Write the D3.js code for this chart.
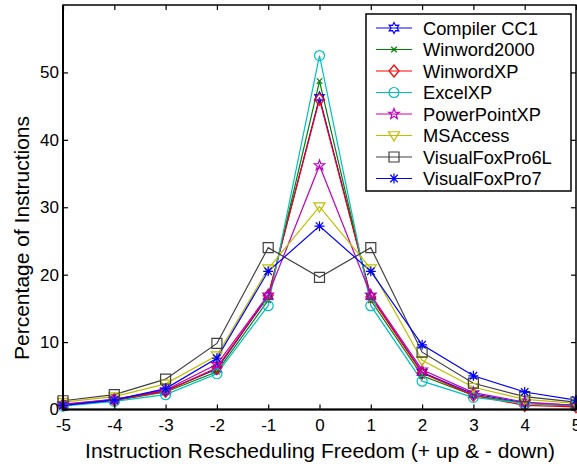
<!DOCTYPE html>
<html><head><meta charset="utf-8">
<script src="https://cdn.jsdelivr.net/npm/d3@7"></script>
<style>body{margin:0;background:#fff}svg{display:block}text{font-family:Arial,"Liberation Sans",sans-serif}</style>
</head><body><svg id="c" width="577" height="464"></svg>
<script>
const xVals = [-5,-4,-3,-2,-1,0,1,2,3,4,5];
const xTicks = [-5,-4,-3,-2,-1,0,1,2,3,4,5];
const yTicks = [0,10,20,30,40,50];
const names = ["Compiler CC1","Winword2000","WinwordXP","ExcelXP","PowerPointXP","MSAccess","VisualFoxPro6L","VisualFoxPro7"];
const colors = ["#0000ff","#008000","#ff0000","#00bfbf","#bf00bf","#bfbf00","#404040","#0000ff"];
const markers = ["hexagram","x","diamond","circle","pentagram","triangleDown","square","asterisk"];
const compilerCC1   = [0.7,1.5,2.8,6.0,16.8,46.3,16.8,5.5,2.3,1.0,0.6];
const winword2000   = [0.6,1.3,2.6,5.6,16.2,48.7,16.2,5.0,2.1,0.9,0.5];
const winwordXP     = [0.7,1.4,2.7,6.2,16.9,46.0,16.7,5.4,2.1,0.6,0.4];
const excelXP       = [0.5,1.2,2.2,5.3,15.4,52.5,15.4,4.2,1.8,0.9,0.6];
const powerPointXP  = [0.8,1.5,2.9,6.7,17.0,36.2,17.0,5.9,2.5,1.1,0.6];
const msAccess      = [1.1,1.9,3.8,8.0,20.9,30.1,20.9,7.3,3.3,1.5,0.9];
const visualFoxPro6L= [1.3,2.2,4.5,9.8,24.0,19.6,24.0,8.5,3.9,1.9,1.1];
const visualFoxPro7 = [0.6,1.4,3.1,7.6,20.5,27.2,20.5,9.6,5.0,2.6,1.4];
const series = [compilerCC1,winword2000,winwordXP,excelXP,powerPointXP,msAccess,visualFoxPro6L,visualFoxPro7];

const svg = d3.select("#c");
const L=63,R=576,T=5,B=409.5;
const x = d3.scaleLinear().domain([-5,5]).range([L,R]);
const y = d3.scaleLinear().domain([0,60]).range([B,T]);

function markerPath(type,s){
  const p=d3.path();
  if(type==="circle"){p.arc(0,0,s,0,2*Math.PI);}
  else if(type==="square"){p.rect(-s,-s,2*s,2*s);}
  else if(type==="diamond"){p.moveTo(0,-s*1.2);p.lineTo(s,0);p.lineTo(0,s*1.2);p.lineTo(-s,0);p.closePath();}
  else if(type==="triangleDown"){p.moveTo(-s*1.1,-s*0.75);p.lineTo(s*1.1,-s*0.75);p.lineTo(0,s*1.1);p.closePath();}
  else if(type==="x"){const k=s*0.55;p.moveTo(-k,-k);p.lineTo(k,k);p.moveTo(-k,k);p.lineTo(k,-k);}
  else if(type==="asterisk"){const k=s*0.75;p.moveTo(-s,0);p.lineTo(s,0);p.moveTo(0,-s);p.lineTo(0,s);p.moveTo(-k,-k);p.lineTo(k,k);p.moveTo(-k,k);p.lineTo(k,-k);}
  else if(type==="pentagram"||type==="hexagram"){
    const n=type==="pentagram"?5:6, ro=s*1.1, ri=type==="pentagram"?s*0.45:s*0.6;
    for(let i=0;i<2*n;i++){const a=-Math.PI/2+i*Math.PI/n, r=i%2?ri:ro;
      const px=r*Math.cos(a),py=r*Math.sin(a); if(i===0)p.moveTo(px,py);else p.lineTo(px,py);}
    p.closePath();
  }
  return p.toString();
}

const line = d3.line().x((d,i)=>x(xVals[i])).y(d=>y(d));
const g = svg.append("g");
series.forEach((s,k)=>{
  g.append("path").attr("d",line(s)).attr("fill","none").attr("stroke",colors[k]).attr("stroke-width",1.2);
});
series.forEach((s,k)=>{
  g.selectAll(null).data(s).enter().append("path")
    .attr("transform",(d,i)=>`translate(${x(xVals[i])},${y(d)})`)
    .attr("d",markerPath(markers[k],5)).attr("fill","none").attr("stroke",colors[k]).attr("stroke-width",1.2);
});

// frame
svg.append("rect").attr("x",L).attr("y",T).attr("width",R-L).attr("height",B-T).attr("fill","none").attr("stroke","#000").attr("stroke-width",1.5);
svg.append("line").attr("x1",L).attr("x2",R).attr("y1",B).attr("y2",B).attr("stroke","#000").attr("stroke-width",2);
svg.append("line").attr("x1",L).attr("x2",L).attr("y1",T).attr("y2",B).attr("stroke","#000").attr("stroke-width",2);

const tl=5;
const fmt = d=>String(d);
const ax = svg.append("g").attr("transform",`translate(0,${B})`).call(d3.axisBottom(x).tickValues(xTicks).tickSize(-tl).tickPadding(8).tickFormat(fmt));
ax.select(".domain").remove();
ax.selectAll("text").attr("font-size",17).attr("font-family","Arial,'Liberation Sans',sans-serif").attr("dy","0.75em").attr("y",9);
const axT = svg.append("g").attr("transform",`translate(0,${T})`).call(d3.axisTop(x).tickValues(xTicks).tickSize(-tl).tickFormat(""));
axT.select(".domain").remove();
const ay = svg.append("g").attr("transform",`translate(${L},0)`).call(d3.axisLeft(y).tickValues(yTicks).tickSize(-tl).tickPadding(4).tickFormat(fmt));
ay.select(".domain").remove();
ay.selectAll("text").attr("font-size",17).attr("font-family","Arial,'Liberation Sans',sans-serif");
const ayR = svg.append("g").attr("transform",`translate(${R},0)`).call(d3.axisRight(y).tickValues(yTicks).tickSize(-tl).tickFormat(""));
ayR.select(".domain").remove();
svg.selectAll(".tick line").attr("stroke","#000").attr("stroke-width",1.2);

svg.append("text").attr("x",320).attr("y",458).attr("text-anchor","middle").attr("font-size",21).text("Instruction Rescheduling Freedom (+ up & - down)");
svg.append("text").attr("transform","translate(29,238) rotate(-90)").attr("text-anchor","middle").attr("font-size",21).text("Percentage of Instructions");

// legend
const lg = svg.append("g");
lg.append("rect").attr("x",366).attr("y",14).attr("width",205).attr("height",177).attr("fill","#fff").attr("stroke","#000").attr("stroke-width",1.5);
names.forEach((n,k)=>{
  const yy = 28 + 21.5*k;
  lg.append("line").attr("x1",376).attr("x2",412).attr("y1",yy).attr("y2",yy).attr("stroke",colors[k]).attr("stroke-width",1.2);
  lg.append("path").attr("transform",`translate(394,${yy})`).attr("d",markerPath(markers[k],5)).attr("fill","none").attr("stroke",colors[k]).attr("stroke-width",1.2);
  lg.append("text").attr("x",423).attr("y",yy).attr("dy","0.36em").attr("font-size",18.3).text(n);
});
</script></body></html>
